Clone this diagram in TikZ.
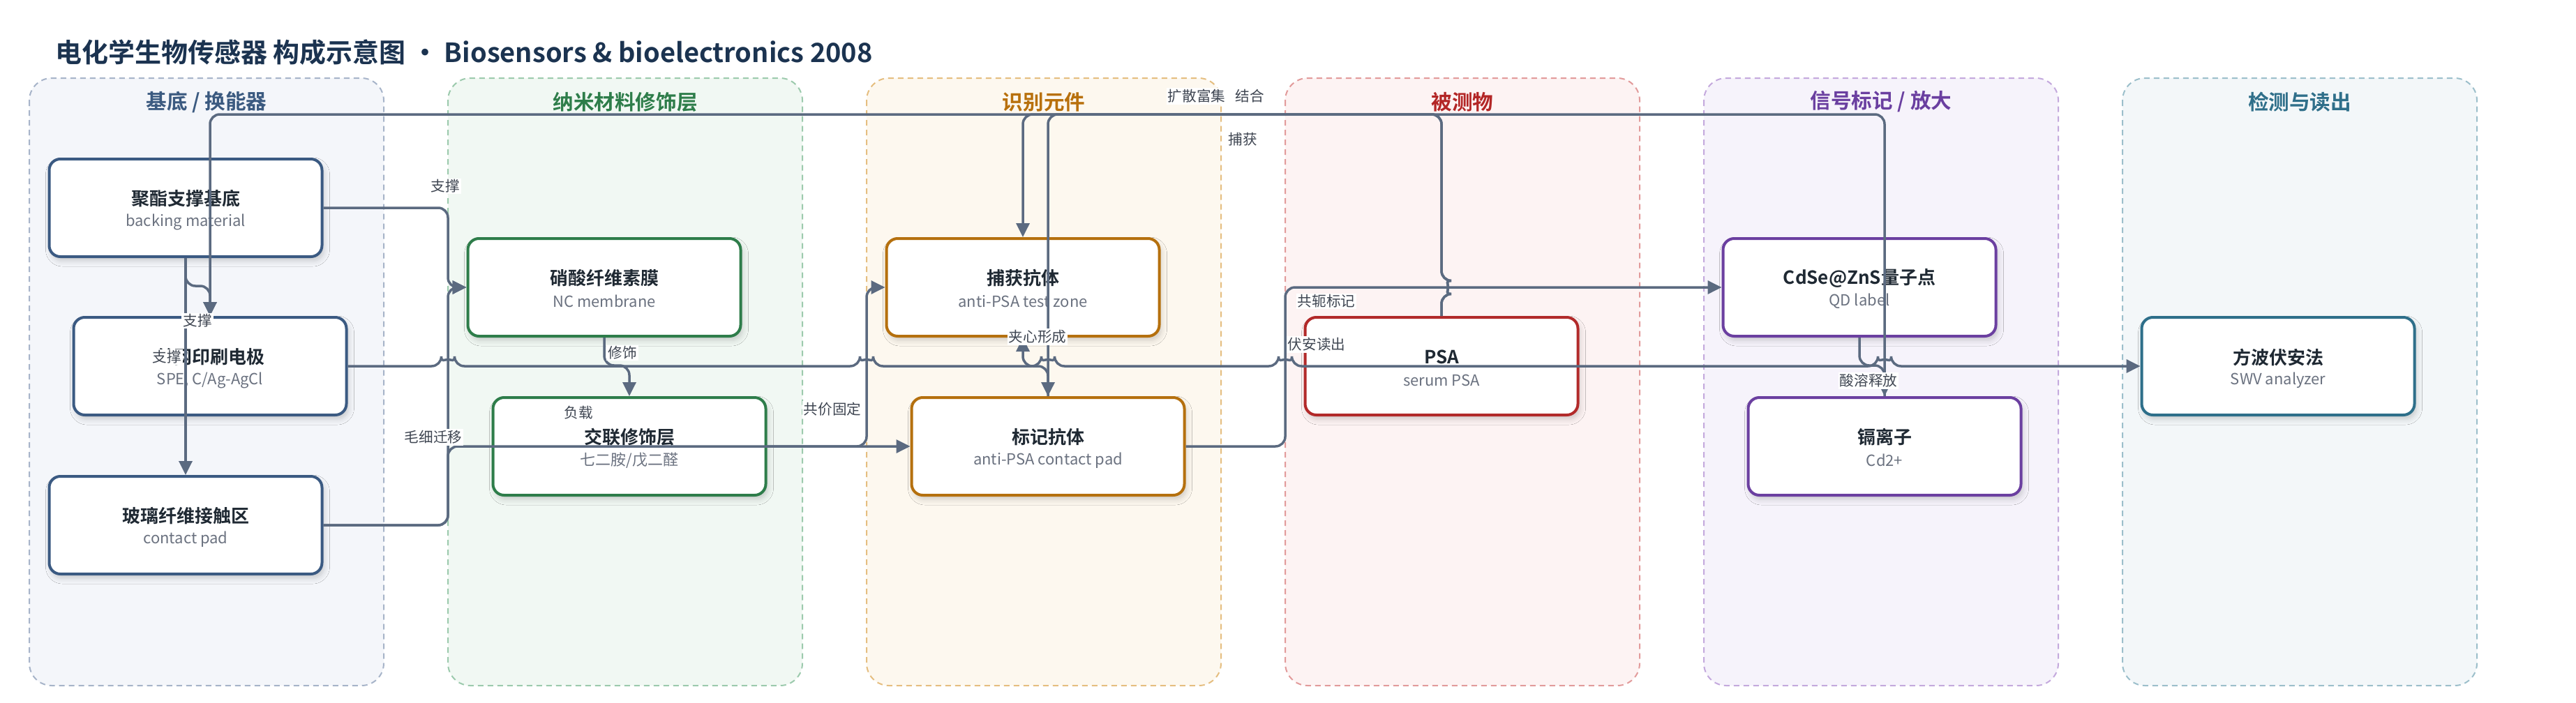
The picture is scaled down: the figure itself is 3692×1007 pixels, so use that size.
\documentclass[tikz,border=0pt]{standalone}
\usepackage{fontspec}
\setmainfont{Noto Sans CJK SC}[BoldFont={Noto Sans CJK SC Bold}]
\usetikzlibrary{arrows.meta,shadows.blur}

\definecolor{laneAfill}{HTML}{F4F6FA}\definecolor{laneAdraw}{HTML}{A7B4C9}\definecolor{laneAtext}{HTML}{3B5A80}
\definecolor{laneBfill}{HTML}{F1F8F3}\definecolor{laneBdraw}{HTML}{9CCAAD}\definecolor{laneBtext}{HTML}{2E7D4A}
\definecolor{laneCfill}{HTML}{FDF8EF}\definecolor{laneCdraw}{HTML}{E5BE80}\definecolor{laneCtext}{HTML}{B8700C}
\definecolor{laneDfill}{HTML}{FDF3F3}\definecolor{laneDdraw}{HTML}{E29B9B}\definecolor{laneDtext}{HTML}{B32626}
\definecolor{laneEfill}{HTML}{F6F3FB}\definecolor{laneEdraw}{HTML}{C4A9DD}\definecolor{laneEtext}{HTML}{6A3FA0}
\definecolor{laneFfill}{HTML}{F3F7F9}\definecolor{laneFdraw}{HTML}{9CBFCB}\definecolor{laneFtext}{HTML}{2F6F8A}
\definecolor{unitA}{HTML}{3B5A82}
\definecolor{unitB}{HTML}{2E7D4A}
\definecolor{unitC}{HTML}{B5700E}
\definecolor{unitD}{HTML}{B22A2A}
\definecolor{unitE}{HTML}{6B3FA0}
\definecolor{unitF}{HTML}{2E6F8A}
\definecolor{linkc}{HTML}{5B6A80}
\definecolor{tagtext}{HTML}{3F4652}
\definecolor{headtext}{HTML}{1B3350}
\definecolor{ttltext}{HTML}{1F2933}
\definecolor{subtext}{HTML}{6B7280}

% box with a bold title and a grey subtitle
\newcommand{\unitnode}[5]{%
  \node[unit,draw=#3] (#1) at (#2) {};
  \node[ttl] at ([yshift=6.5pt]#1.center) {#4};
  \node[sub] at ([yshift=-10pt]#1.center) {#5};
}

\begin{document}
\begin{tikzpicture}
        [x=0.5pt,y=-0.5pt,
         lane/.style={rounded corners=16pt,line width=1pt,dash pattern=on 4pt off 3pt},
         lanetitle/.style={font=\fontsize{14.8}{17}\selectfont\bfseries},
         unit/.style={rectangle,rounded corners=8pt,minimum width=195.5pt,minimum height=70pt,
           fill=white,line width=2pt,
           blur shadow={shadow xshift=1.5pt,shadow yshift=-3pt,shadow blur radius=4pt,shadow opacity=18}},
         ttl/.style={font=\fontsize{13}{15}\selectfont\bfseries,text=ttltext,inner sep=0pt},
         sub/.style={font=\fontsize{11}{13}\selectfont,text=subtext,inner sep=0pt},
         link/.style={draw=linkc,line width=1.75pt,rounded corners=7pt,-{Triangle[length=10pt,width=9.5pt]}},
         tag/.style={fill=white,inner sep=1pt,text=tagtext,font=\fontsize{10.3}{12}\selectfont}]

        \useasboundingbox[fill=white] (0,0) rectangle (3692,1007);

        \node[anchor=west,text=headtext,font=\fontsize{19}{23}\selectfont\bfseries] (head) at (72,75)
            {电化学生物传感器 构成示意图 · Biosensors \& bioelectronics 2008};

        % lanes
        \foreach \i/\col/\nm in {0/A/{基底 / 换能器},1/B/纳米材料修饰层,2/C/识别元件,
                                 3/D/被测物,4/E/{信号标记 / 放大},5/F/检测与读出} {
            \draw[lane,fill=lane\col fill,draw=lane\col draw] (\i*600+42,112) rectangle (\i*600+550,983);
            \node[lanetitle,text=lane\col text] at (\i*600+296,146) {\nm};
        }

        % units
        \unitnode{n1}{266,298}{unitA}{聚酯支撑基底}{backing material}
        \unitnode{n2}{301,525}{unitA}{丝网印刷电极}{SPE, C/Ag-AgCl}
        \unitnode{n3}{266,753}{unitA}{玻璃纤维接触区}{contact pad}
        \unitnode{n4}{866,412}{unitB}{硝酸纤维素膜}{NC membrane}
        \unitnode{n5}{902,640}{unitB}{交联修饰层}{七二胺/戊二醛}
        \unitnode{n6}{1466,412}{unitC}{捕获抗体}{anti-PSA test zone}
        \unitnode{n7}{1502,640}{unitC}{标记抗体}{anti-PSA contact pad}
        \unitnode{n8}{2066,525}{unitD}{PSA}{serum PSA}
        \unitnode{n9}{2665,412}{unitE}{CdSe@ZnS量子点}{QD label}
        \unitnode{n10}{2701,640}{unitE}{镉离子}{Cd2+}
        \unitnode{n11}{3265,525}{unitF}{方波伏安法}{SWV analyzer}

        % connectors
        \draw[link] (n1.east) -| (642,412) -- (n4.west);
        \draw[link] (n3.east) -| (642,412) -- (n4.west);
        \draw[link] (n3.east) -| (642,640) -- (n7.west);
        \draw[link] (n4.south) -- (866,524) -| (n5.north);
        \draw[link] (n5.east) -| (1242,412) -- (n6.west);
        \draw[link] (n1.south) -- (266,410) -| (n2.north);
        \draw[link] (n1.south) -- (n3.north);
        \draw[link] (n8.north) -- (2066,421.5) arc[start angle=-90,end angle=90,radius=4.75pt]
            -- (2066,164) -| (n6.north);
        \draw[link] (n8.north) -- (2066,421.5) arc[start angle=-90,end angle=90,radius=4.75pt]
            -- (2066,164) -| (n7.north);
        \draw[link] (n7.north) -- (1502,525) -| (n6.south);
        \draw[link] (n7.east) -| (1842,412) -- (n9.west);
        \draw[link] (n9.south) -- (2665,524) -| (n10.north);
        \draw[link] (n10.north) -- (2701,164) -| (n2.north);
        \draw[link] (n2.east) -- (632.5,525) arc[start angle=180,end angle=0,radius=4.75pt]
            -- (1232.5,525) arc[start angle=180,end angle=0,radius=4.75pt]
            -- (1492.5,525) arc[start angle=180,end angle=0,radius=4.75pt]
            -- (1832.5,525) arc[start angle=180,end angle=0,radius=4.75pt]
            -- (2691.5,525) arc[start angle=180,end angle=0,radius=4.75pt]
            -- (n11.west);

        % connector labels
        \node[tag] at (638,267) {支撑};
        \node[tag] at (283,460) {支撑};
        \node[tag] at (239,512) {支撑};
        \node[tag] at (892,506) {修饰};
        \node[tag] at (829,592) {负载};
        \node[tag] at (621,627) {毛细迁移};
        \node[tag] at (1193,587) {共价固定};
        \node[tag] at (1487,483) {夹心形成};
        \node[tag] at (1715,138) {扩散富集};
        \node[tag] at (1791,138) {结合};
        \node[tag] at (1781,200) {捕获};
        \node[tag] at (1901,432) {共轭标记};
        \node[tag] at (1887,494) {伏安读出};
        \node[tag] at (2678,546) {酸溶释放};

    \end{tikzpicture}
\end{document}
